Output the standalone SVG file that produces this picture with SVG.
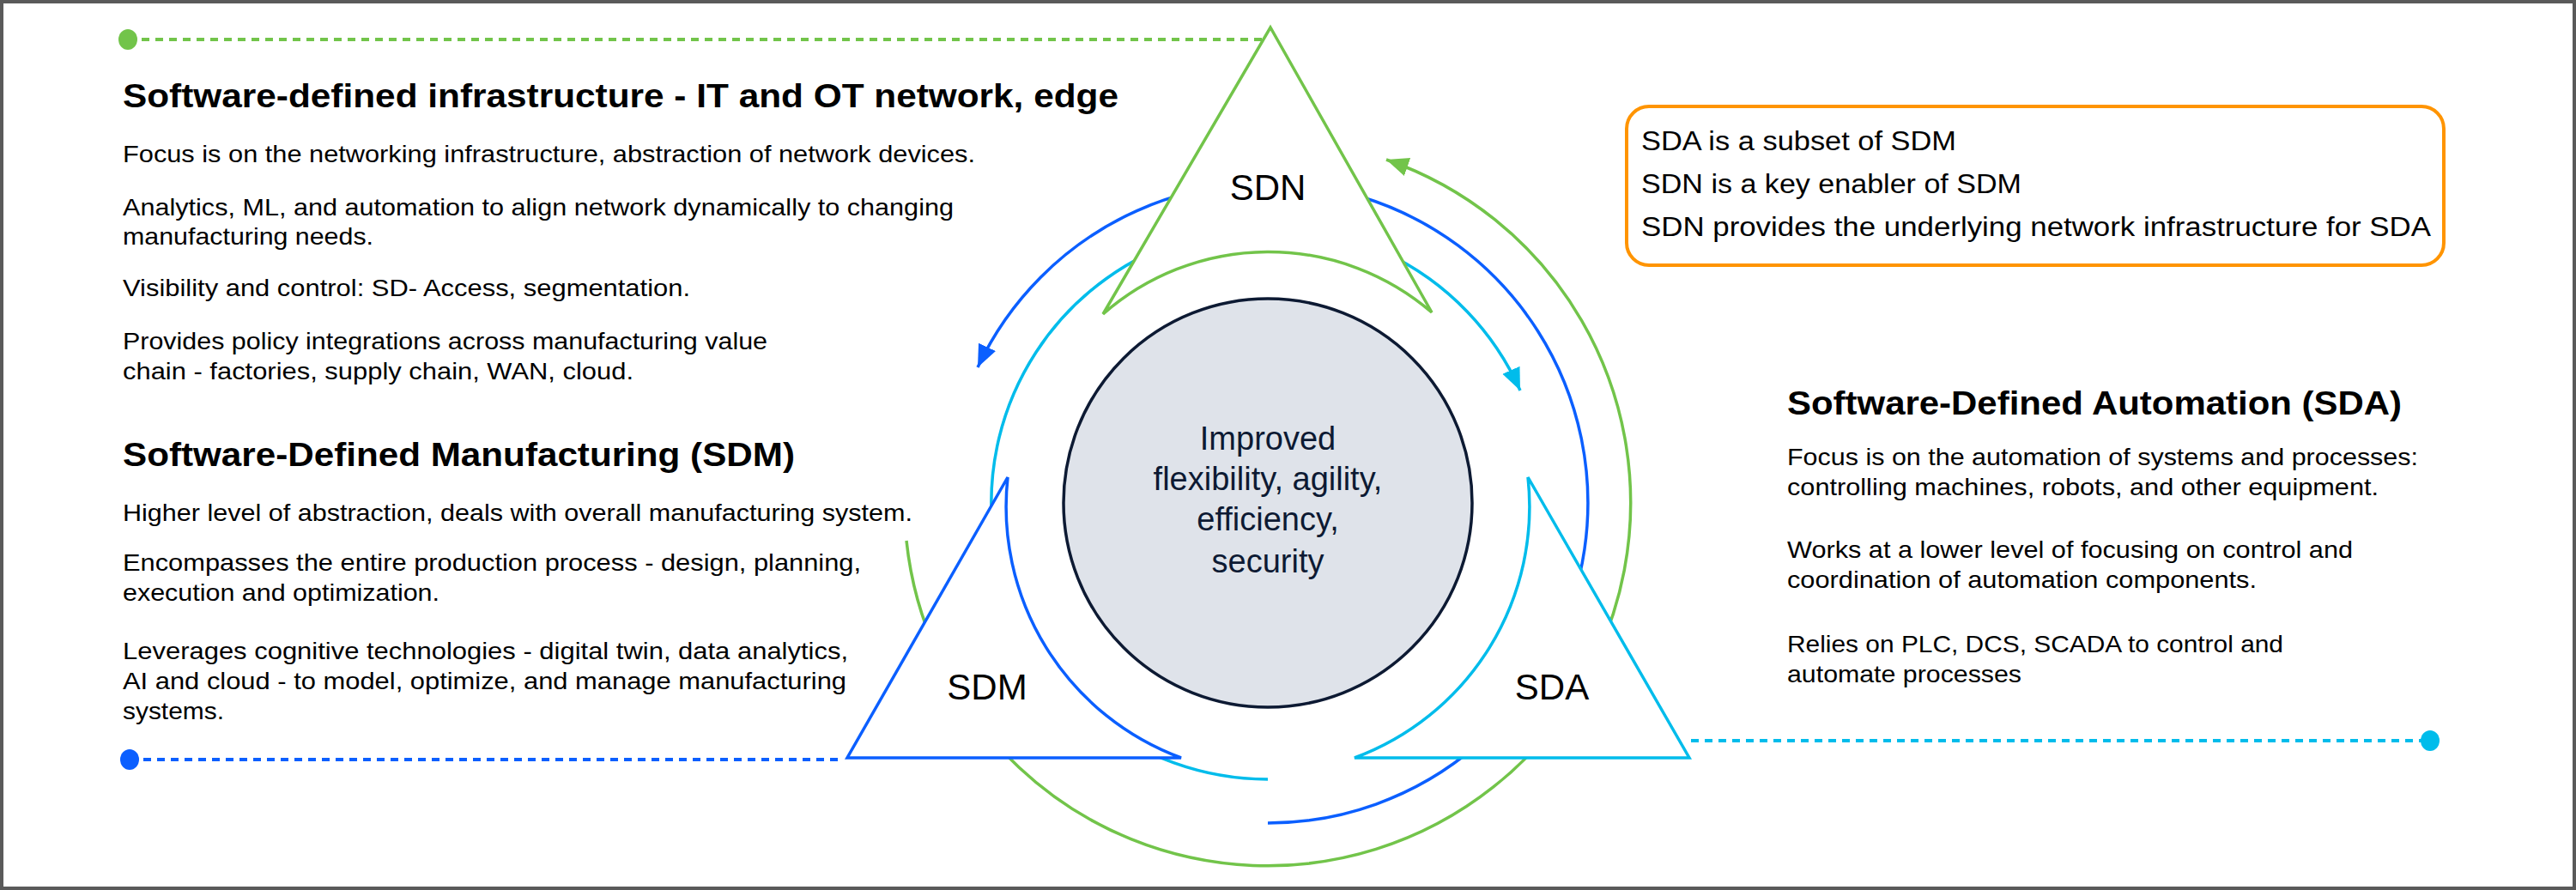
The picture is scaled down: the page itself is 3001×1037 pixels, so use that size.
<svg xmlns="http://www.w3.org/2000/svg" width="3001" height="1037" viewBox="0 0 3001 1037">
<style>
.t{font-family:"Liberation Sans",Arial,sans-serif;font-size:28px;fill:#000}
.h{font-family:"Liberation Sans",Arial,sans-serif;font-size:38px;font-weight:bold;fill:#000}
.b{font-family:"Liberation Sans",Arial,sans-serif;font-size:31px;fill:#000}
.lbl{font-family:"Liberation Sans",Arial,sans-serif;font-size:42px;fill:#000;text-anchor:middle}
.ctr{font-family:"Liberation Sans",Arial,sans-serif;font-size:38px;fill:#0d1a33;text-anchor:middle}
.arc{fill:none;stroke-width:3.5}
</style>
<defs>
<marker id="ab" markerUnits="userSpaceOnUse" markerWidth="30" markerHeight="24" refX="26" refY="11" orient="auto"><path d="M0,0 L26,11 L0,22 z" fill="#0b5fff"/></marker>
<marker id="ac" markerUnits="userSpaceOnUse" markerWidth="30" markerHeight="24" refX="26" refY="11" orient="auto"><path d="M0,0 L26,11 L0,22 z" fill="#00bceb"/></marker>
<marker id="ag" markerUnits="userSpaceOnUse" markerWidth="30" markerHeight="24" refX="26" refY="11" orient="auto"><path d="M0,0 L26,11 L0,22 z" fill="#72c44a"/></marker>
</defs>
<rect x="2" y="2" width="2997" height="1033" fill="#fff" stroke="#5a5a5a" stroke-width="4"/>
<g id="connectors">
<path class="arc" stroke="#0b5fff" d="M1477,959 A373 373 0 1 0 1139,428" marker-end="url(#ab)"/>
<path class="arc" stroke="#00bceb" d="M1477,908 A322 322 0 1 1 1771,455" marker-end="url(#ac)"/>
<path class="arc" stroke="#72c44a" d="M1056,630 A423 423 0 1 0 1615,186" marker-end="url(#ag)"/>
<line x1="149" y1="46" x2="1478" y2="46" stroke="#72c44a" stroke-width="4" stroke-dasharray="9 7"/>
<line x1="151" y1="885" x2="980" y2="885" stroke="#0b5fff" stroke-width="4" stroke-dasharray="9 7"/>
<line x1="1970" y1="863" x2="2831" y2="863" stroke="#00bceb" stroke-width="4" stroke-dasharray="9 7"/>
<ellipse cx="149" cy="46" rx="11" ry="12" fill="#72c44a"/>
<ellipse cx="151" cy="885" rx="11" ry="12" fill="#0b5fff"/>
<ellipse cx="2831" cy="863" rx="11" ry="12" fill="#00bceb"/>
</g>
<g id="sdn">
<path d="M1285,366 L1480,32 L1668,364 A292 292 0 0 0 1285,366 Z" fill="#fff" stroke="#72c44a" stroke-width="3.5" stroke-linejoin="miter"/>
<text class="lbl" x="1477" y="233">SDN</text>
</g>
<g id="sdm">
<path d="M1174,556 L987,883 L1376,883 A312 312 0 0 1 1174,556 Z" fill="#fff" stroke="#0b5fff" stroke-width="3.5"/>
<text class="lbl" x="1150" y="815">SDM</text>
</g>
<g id="sda">
<path d="M1780,556 L1968,883 L1578,883 A312 312 0 0 0 1780,556 Z" fill="#fff" stroke="#00bceb" stroke-width="3.5"/>
<text class="lbl" x="1808" y="815">SDA</text>
</g>
<g id="center">
<circle cx="1477" cy="586" r="238" fill="#dfe3ea" stroke="#0d1a33" stroke-width="3.5"/>
<text class="ctr" x="1477" y="524">Improved</text>
<text class="ctr" x="1477" y="571">flexibility, agility,</text>
<text class="ctr" x="1477" y="618">efficiency,</text>
<text class="ctr" x="1477" y="667">security</text>
</g>
<g id="sdi-text">
<text class="h" x="143" y="125" textLength="1160" lengthAdjust="spacingAndGlyphs">Software-defined infrastructure - IT and OT network, edge</text>
<text class="t" x="143" y="189" textLength="993" lengthAdjust="spacingAndGlyphs">Focus is on the networking infrastructure, abstraction of network devices.</text>
<text class="t" x="143" y="251" textLength="968" lengthAdjust="spacingAndGlyphs">Analytics, ML, and automation to align network dynamically to changing</text>
<text class="t" x="143" y="285" textLength="292" lengthAdjust="spacingAndGlyphs">manufacturing needs.</text>
<text class="t" x="143" y="345" textLength="661" lengthAdjust="spacingAndGlyphs">Visibility and control: SD- Access, segmentation.</text>
<text class="t" x="143" y="407" textLength="751" lengthAdjust="spacingAndGlyphs">Provides policy integrations across manufacturing value</text>
<text class="t" x="143" y="442" textLength="595" lengthAdjust="spacingAndGlyphs">chain - factories, supply chain, WAN, cloud.</text>
</g>
<g id="sdm-text">
<text class="h" x="143" y="543" textLength="783" lengthAdjust="spacingAndGlyphs">Software-Defined Manufacturing (SDM)</text>
<text class="t" x="143" y="607" textLength="920" lengthAdjust="spacingAndGlyphs">Higher level of abstraction, deals with overall manufacturing system.</text>
<text class="t" x="143" y="665" textLength="860" lengthAdjust="spacingAndGlyphs">Encompasses the entire production process - design, planning,</text>
<text class="t" x="143" y="700" textLength="369" lengthAdjust="spacingAndGlyphs">execution and optimization.</text>
<text class="t" x="143" y="768" textLength="845" lengthAdjust="spacingAndGlyphs">Leverages cognitive technologies - digital twin, data analytics,</text>
<text class="t" x="143" y="803" textLength="843" lengthAdjust="spacingAndGlyphs">AI and cloud - to model, optimize, and manage manufacturing</text>
<text class="t" x="143" y="838" textLength="118" lengthAdjust="spacingAndGlyphs">systems.</text>
</g>
<g id="sda-text">
<text class="h" x="2082" y="483" textLength="716" lengthAdjust="spacingAndGlyphs">Software-Defined Automation (SDA)</text>
<text class="t" x="2082" y="542" textLength="735" lengthAdjust="spacingAndGlyphs">Focus is on the automation of systems and processes:</text>
<text class="t" x="2082" y="577" textLength="689" lengthAdjust="spacingAndGlyphs">controlling machines, robots, and other equipment.</text>
<text class="t" x="2082" y="650" textLength="659" lengthAdjust="spacingAndGlyphs">Works at a lower level of focusing on control and</text>
<text class="t" x="2082" y="685" textLength="547" lengthAdjust="spacingAndGlyphs">coordination of automation components.</text>
<text class="t" x="2082" y="760" textLength="578" lengthAdjust="spacingAndGlyphs">Relies on PLC, DCS, SCADA to control and</text>
<text class="t" x="2082" y="795" textLength="273" lengthAdjust="spacingAndGlyphs">automate processes</text>
</g>
<g id="relations">
<rect x="1895" y="124" width="952" height="185" rx="26" fill="#fff" stroke="#ff9400" stroke-width="4"/>
<text class="b" x="1912" y="175" textLength="367" lengthAdjust="spacingAndGlyphs">SDA is a subset of SDM</text>
<text class="b" x="1912" y="225" textLength="443" lengthAdjust="spacingAndGlyphs">SDN is a key enabler of SDM</text>
<text class="b" x="1912" y="275" textLength="920" lengthAdjust="spacingAndGlyphs">SDN provides the underlying network infrastructure for SDA</text>
</g>
</svg>
